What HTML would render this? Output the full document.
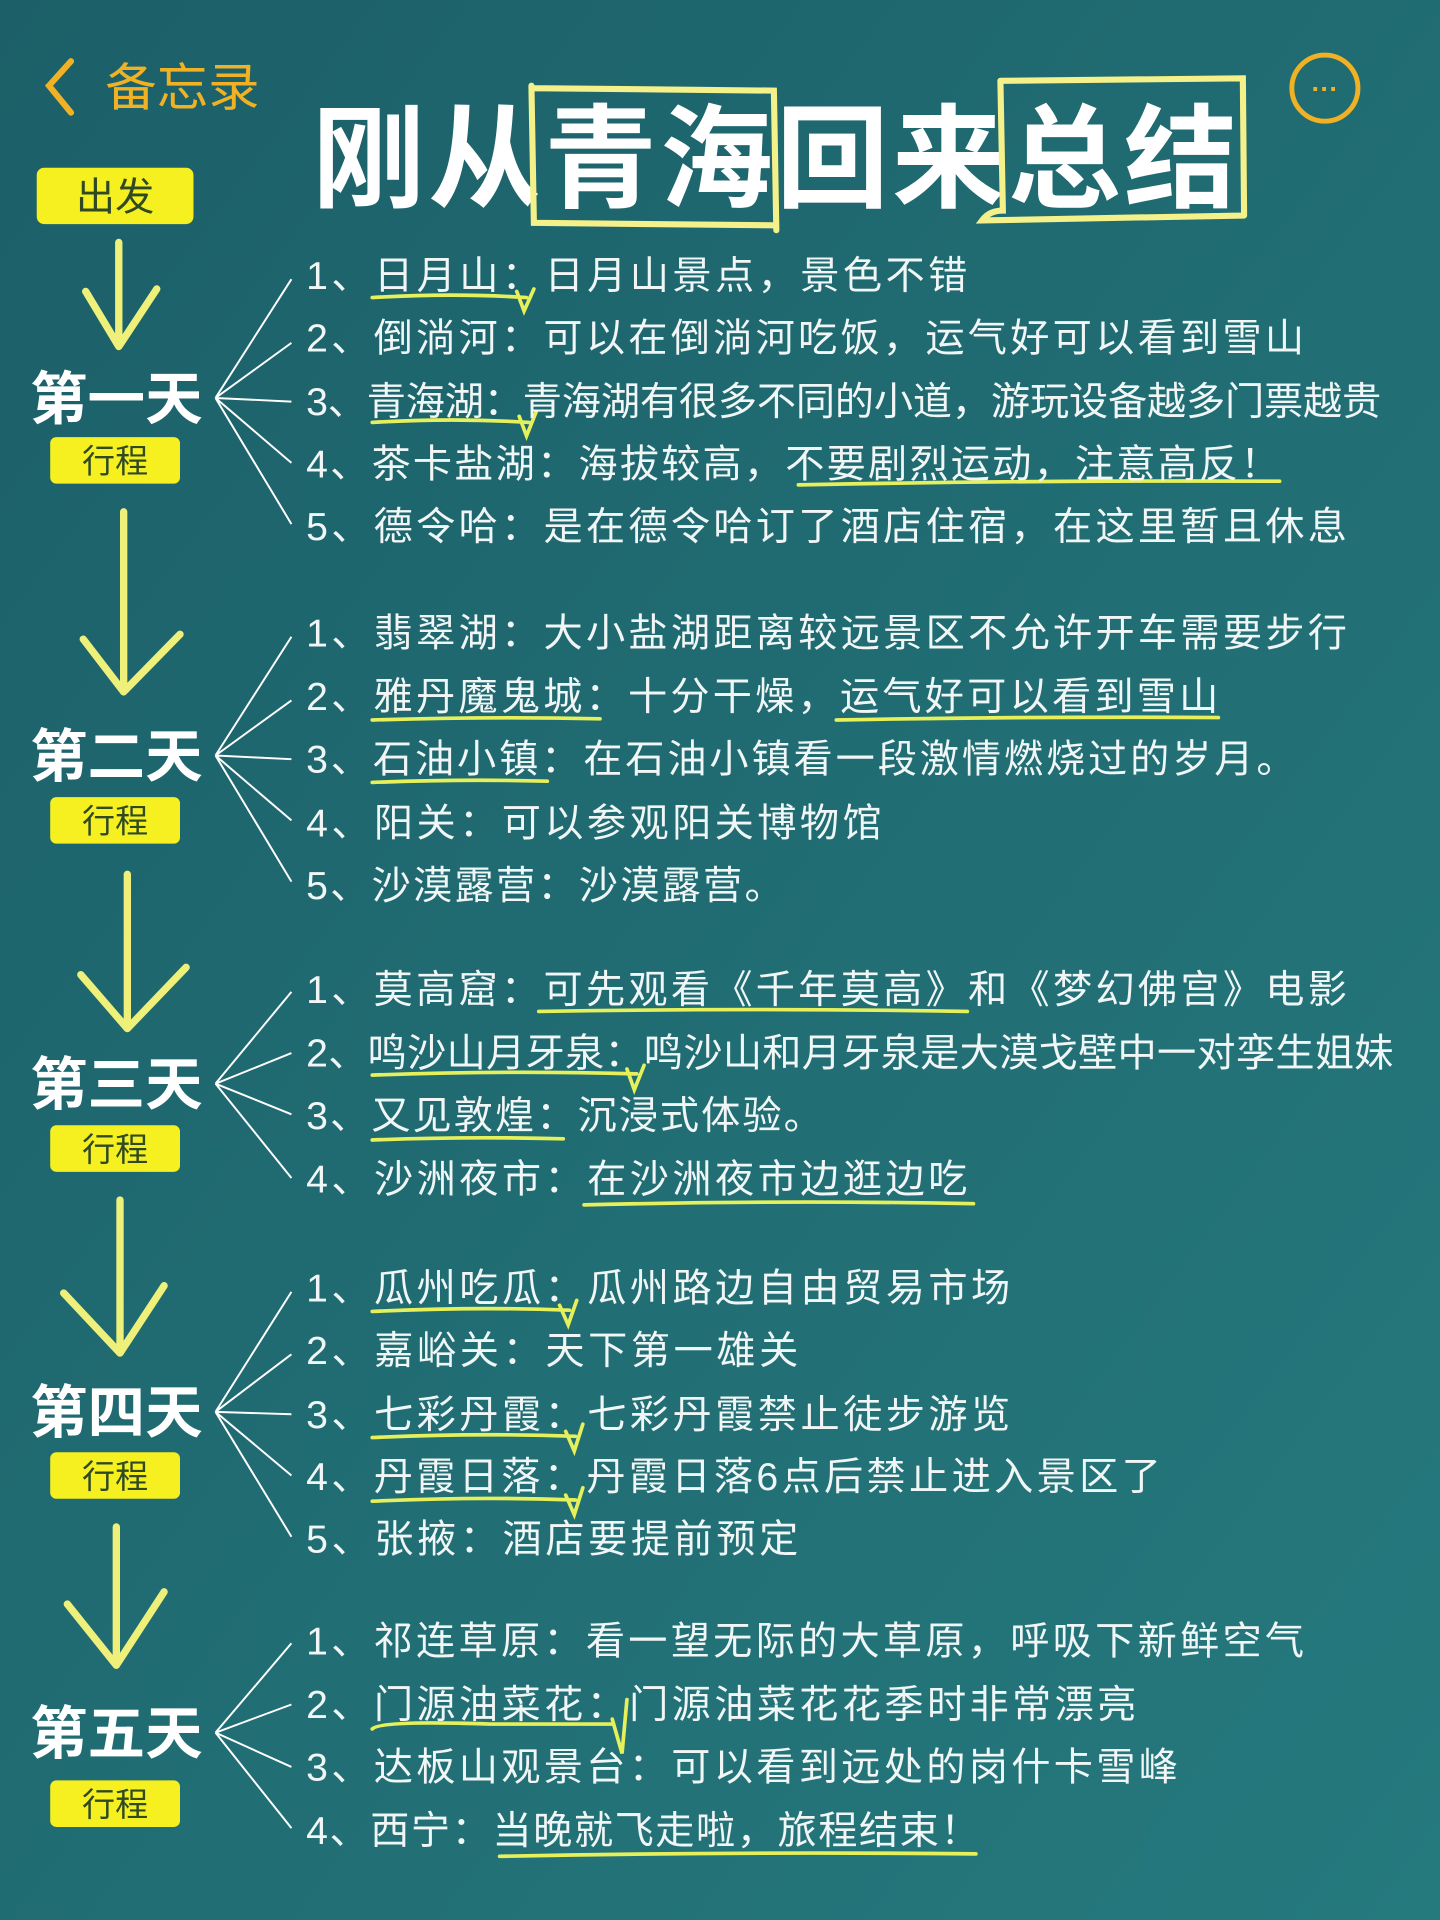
<!DOCTYPE html>
<html><head><meta charset="utf-8"><style>
html,body{margin:0;padding:0;width:1440px;height:1920px;overflow:hidden;background:#1f6a71}
svg{display:block}
</style></head><body>
<svg width="1440" height="1920" viewBox="0 0 1176 1568" xmlns="http://www.w3.org/2000/svg">
<defs><linearGradient id="bg" x1="0" y1="0" x2="1" y2="1"><stop offset="0" stop-color="#1c5f68"/><stop offset="1" stop-color="#257a7e"/></linearGradient></defs>
<rect width="1176" height="1568" fill="url(#bg)"/>
<g font-family="Liberation Sans, Noto Sans CJK SC, sans-serif">
<path d="M58 50 L40 70 L58 92" fill="none" stroke="#f0b224" stroke-width="5" stroke-linecap="round"/>
<text x="86" y="86" font-size="42" fill="#f0b224">备忘录</text>
<circle cx="1082" cy="72" r="27" fill="none" stroke="#f0b224" stroke-width="4"/>
<text x="1082" y="80" font-size="22" fill="#f0b224" text-anchor="middle" font-weight="bold">···</text>
<text x="255" y="162" font-size="92" fill="#ffffff" font-weight="bold" textLength="755">刚从青海回来总结</text>
<path d="M434 72 L632 74 L634 188 M434 70 L436 182 L632 184" fill="none" stroke="#f4f08a" stroke-width="5" stroke-linecap="round"/>
<path d="M817 66 L1015 64 L1016 176 M817 66 L819 172 Q808 172 802 180 L1015 176" fill="none" stroke="#f4f08a" stroke-width="5" stroke-linecap="round"/>
<rect x="30" y="137" width="128" height="46" rx="6" fill="#f7f020"/>
<text x="94" y="172" font-size="32" fill="#2f4a22" text-anchor="middle">出发</text>
<g fill="none" stroke="#eef07a" stroke-width="6" stroke-linecap="round" stroke-linejoin="round">
<path d="M97 198 L97 283 M70 238 L97 283 L128 236"/>
<path d="M101 418 L101 563 M68 522 L101 565 L147 518"/>
<path d="M104 714 L104 838 M66 796 L104 840 L152 790"/>
<path d="M98 980 L98 1103 M52 1056 L98 1105 L134 1050"/>
<path d="M95 1247 L95 1358 M55 1310 L95 1360 L134 1300"/>
</g>
<g font-size="47" font-weight="bold" fill="#ffffff" text-anchor="middle">
<text x="95" y="342">第一天</text>
<text x="95" y="634">第二天</text>
<text x="95" y="902">第三天</text>
<text x="95" y="1170">第四天</text>
<text x="95" y="1432">第五天</text>
</g>
<g fill="#f7f020">
<rect x="41" y="357" width="106" height="38" rx="5"/>
<rect x="41" y="651" width="106" height="38" rx="5"/>
<rect x="41" y="919" width="106" height="38" rx="5"/>
<rect x="41" y="1186" width="106" height="38" rx="5"/>
<rect x="41" y="1454" width="106" height="38" rx="5"/>
</g>
<g font-size="27" fill="#2f4a22" text-anchor="middle">
<text x="94" y="386">行程</text><text x="94" y="680">行程</text><text x="94" y="948">行程</text><text x="94" y="1215">行程</text><text x="94" y="1483">行程</text>
</g>
<g stroke="#ffffff" stroke-width="1.6" fill="none">
<path d="M176 325 L238 228 M176 325 L238 280 M176 325 L238 328 M176 325 L238 378 M176 325 L238 428"/>
<path d="M176 617 L238 520 M176 617 L238 572 M176 617 L238 620 M176 617 L238 670 M176 617 L238 720"/>
<path d="M176 885 L238 810 M176 885 L238 860 M176 885 L238 910 M176 885 L238 962"/>
<path d="M176 1153 L238 1055 M176 1153 L238 1106 M176 1153 L238 1155 M176 1153 L238 1205 M176 1153 L238 1255"/>
<path d="M176 1415 L238 1342 M176 1415 L238 1392 M176 1415 L238 1443 M176 1415 L238 1493"/>
</g>
<g fill="none" stroke="#e6f05a" stroke-width="3" stroke-linecap="round">
<path d="M304 243 Q370 239 430 243 M422 238 L428 254 L436 236"/>
<path d="M304 345 Q370 341 432 345 M424 340 L430 356 L438 336"/>
<path d="M652 396 Q850 392 1045 393"/>
<path d="M304 588 Q400 585 490 587"/>
<path d="M683 588 Q840 585 995 586"/>
<path d="M304 639 Q380 636 447 638"/>
<path d="M440 826 Q620 823 790 826"/>
<path d="M304 878 Q410 874 520 877 M512 873 L518 890 L526 870"/>
<path d="M304 931 Q380 928 460 930"/>
<path d="M477 984 Q640 980 795 983"/>
<path d="M304 1071 Q390 1067 465 1070 M457 1066 L464 1082 L471 1062"/>
<path d="M304 1174 Q390 1170 470 1173 M462 1169 L469 1185 L476 1163"/>
<path d="M304 1226 Q390 1222 470 1225 M462 1221 L469 1237 L476 1215"/>
<path d="M304 1412 Q310 1405 400 1408 L500 1408 M500 1404 L508 1432 L512 1388"/>
<path d="M408 1516 Q600 1512 797 1514"/>
</g>
<g font-size="32" fill="#f0f5f5" lengthAdjust="spacing">
<text x="250" y="236" textLength="540">1、日月山：日月山景点，景色不错</text>
<text x="250" y="287" textLength="815">2、倒淌河：可以在倒淌河吃饭，运气好可以看到雪山</text>
<text x="250" y="339" textLength="878">3、青海湖：青海湖有很多不同的小道，游玩设备越多门票越贵</text>
<text x="250" y="390" textLength="795">4、茶卡盐湖：海拔较高，不要剧烈运动，注意高反！</text>
<text x="250" y="441" textLength="850">5、德令哈：是在德令哈订了酒店住宿，在这里暂且休息</text>

<text x="250" y="528" textLength="850">1、翡翠湖：大小盐湖距离较远景区不允许开车需要步行</text>
<text x="250" y="580" textLength="745">2、雅丹魔鬼城：十分干燥，运气好可以看到雪山</text>
<text x="250" y="631" textLength="808">3、石油小镇：在石油小镇看一段激情燃烧过的岁月。</text>
<text x="250" y="683" textLength="470">4、阳关：可以参观阳关博物馆</text>
<text x="250" y="734" textLength="390">5、沙漠露营：沙漠露营。</text>

<text x="250" y="819" textLength="850">1、莫高窟：可先观看《千年莫高》和《梦幻佛宫》电影</text>
<text x="250" y="871" textLength="888">2、鸣沙山月牙泉：鸣沙山和月牙泉是大漠戈壁中一对孪生姐妹</text>
<text x="250" y="922" textLength="422">3、又见敦煌：沉浸式体验。</text>
<text x="250" y="974" textLength="540">4、沙洲夜市：在沙洲夜市边逛边吃</text>

<text x="250" y="1063" textLength="575">1、瓜州吃瓜：瓜州路边自由贸易市场</text>
<text x="250" y="1114" textLength="402">2、嘉峪关：天下第一雄关</text>
<text x="250" y="1166" textLength="575">3、七彩丹霞：七彩丹霞禁止徒步游览</text>
<text x="250" y="1217" textLength="698">4、丹霞日落：丹霞日落6点后禁止进入景区了</text>
<text x="250" y="1268" textLength="402">5、张掖：酒店要提前预定</text>

<text x="250" y="1351" textLength="815">1、祁连草原：看一望无际的大草原，呼吸下新鲜空气</text>
<text x="250" y="1403" textLength="678">2、门源油菜花：门源油菜花花季时非常漂亮</text>
<text x="250" y="1454" textLength="712">3、达板山观景台：可以看到远处的岗什卡雪峰</text>
<text x="250" y="1506" textLength="550">4、西宁：当晚就飞走啦，旅程结束！</text>
</g>
</g>
</svg>
</body></html>
